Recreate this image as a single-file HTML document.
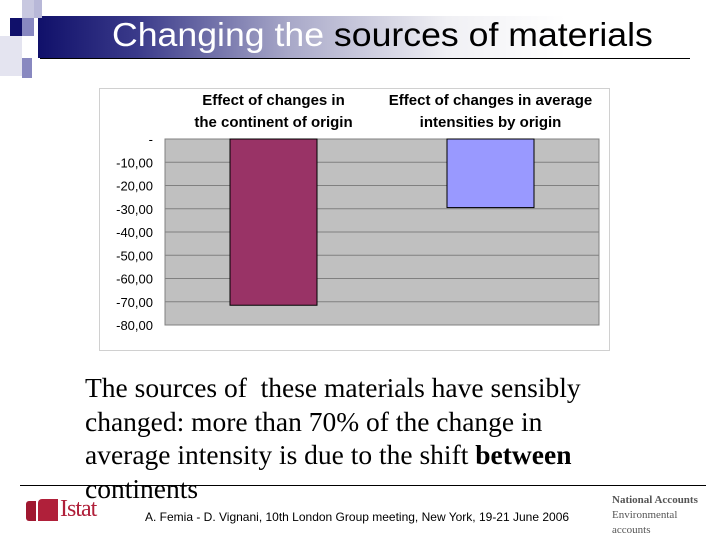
<!DOCTYPE html>
<html><head><meta charset="utf-8"><style>
body{margin:0;width:720px;height:540px;overflow:hidden;background:#fff;position:relative;font-family:"Liberation Sans",sans-serif}
.a{position:absolute}
</style></head><body>
<div class="a" style="left:38px;top:16px;width:660px;height:42px;background:linear-gradient(90deg,#10106a 0%,#3a3a8a 15%,#a8a8c8 38%,#f0f0f4 62%,#fff 80%)"></div>
<div class="a" style="left:10px;top:18px;width:12px;height:18px;background:#10106a"></div>
<div class="a" style="left:22px;top:0px;width:12px;height:18px;background:#c8c8e0"></div>
<div class="a" style="left:22px;top:18px;width:12px;height:18px;background:#8888c0"></div>
<div class="a" style="left:34px;top:0px;width:8px;height:18px;background:#b8b8d8"></div>
<div class="a" style="left:0px;top:36px;width:22px;height:40px;background:#e4e4f0"></div>
<div class="a" style="left:22px;top:58px;width:10px;height:20px;background:#8888c0"></div>
<div class="a" style="left:40px;top:58px;width:650px;height:1px;background:#000"></div>
<div class="a" style="left:112px;top:16px;font-size:33px;color:#000;white-space:nowrap;transform:scaleX(1.08);transform-origin:0 0"><span style="color:#fff">Changing the</span> sources of materials</div>
<svg class="a" style="left:0;top:0" width="720" height="540">
<rect x="99.5" y="88.5" width="510" height="262" fill="#fff" stroke="#d0d0d0"/>
<g id="g"></g>
</svg>
<div class="a" style="left:85px;top:371px;width:520px;font-family:'Liberation Serif',serif;font-size:27.5px;line-height:33.7px;color:#000">The sources of&nbsp; these materials have sensibly changed: more than 70% of the change in average intensity is due to the shift <b>between</b> continents</div>
<div class="a" style="left:20px;top:485px;width:686px;height:1px;background:#000"></div>
<div class="a" style="left:26px;top:501px;width:10px;height:20px;background:#a01830;border-radius:3px 0 0 3px"></div>
<div class="a" style="left:38px;top:499px;width:20px;height:22px;background:#b0203a;border-radius:4px 0 0 0"></div>
<div class="a" style="left:60px;top:496px;font-family:'Liberation Serif',serif;font-size:24px;color:#b0203a;letter-spacing:-1px">Istat</div>
<div class="a" style="left:145px;top:510px;font-size:12px;color:#000;white-space:nowrap">A. Femia - D. Vignani, 10th London Group meeting, New York, 19-21 June 2006</div>
<div class="a" style="left:612px;top:493px;font-family:'Liberation Serif',serif;font-size:11px;line-height:15px;color:#555"><b>National Accounts</b><br>Environmental<br>accounts</div>
<script>
const categories=["Effect of changes in|the continent of origin","Effect of changes in average|intensities by origin"];
const values=[-71.5,-29.5];
const tickValues=[0,-10,-20,-30,-40,-50,-60,-70,-80];
const tickLabels=["-","-10,00","-20,00","-30,00","-40,00","-50,00","-60,00","-70,00","-80,00"];
const colors=["#993366","#9999ff"];
const g=document.getElementById('g');const NS="http://www.w3.org/2000/svg";
const L=165,R=599,T=139,B=325;
const y=v=>T+(0-v)/80*(B-T);
const bw=(R-L)/categories.length;
function mk(t,a,txt){const e=document.createElementNS(NS,t);for(const k in a)e.setAttribute(k,a[k]);if(txt!=null)e.textContent=txt;g.appendChild(e);return e;}
let p=mk('rect',{x:L,y:T,width:R-L,height:B-T,fill:'#c0c0c0',stroke:'#808080'});


tickValues.forEach((v,i)=>{
 if(v!==0&&v!==-80){let l=mk('line',{x1:L,x2:R,y1:y(v),y2:y(v),stroke:'#808080','stroke-width':1});
 
 }
 let t=mk('text',{x:153,y:y(v)+5,'text-anchor':'end','font-size':13,fill:'#000','font-family':'Liberation Sans, sans-serif'},tickLabels[i]);
 
 
});
categories.forEach((c,i)=>{
 const cx=L+bw*(i+0.5);
 const v=values[i];
 let r=mk('rect',{x:cx-43.5,y:y(0),width:87,height:y(v)-y(0),fill:colors[i],stroke:'#000','stroke-width':1});
 
 
 c.split('|').forEach((s,j)=>{
  let t=mk('text',{x:cx,y:105+j*22,'text-anchor':'middle','font-size':15,'font-weight':'bold',fill:'#000','font-family':'Liberation Sans, sans-serif'},s);
  
  
 });
});
</script>
</body></html>
